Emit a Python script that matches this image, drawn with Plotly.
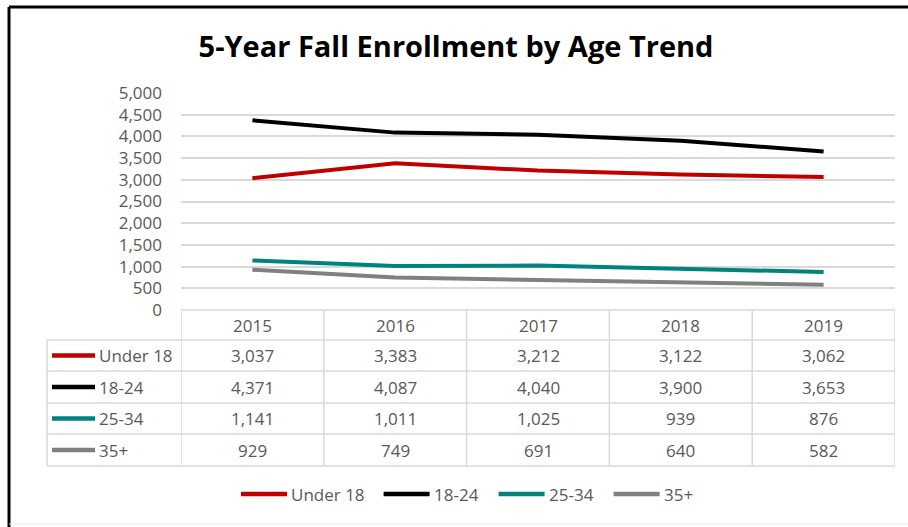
import plotly.graph_objects as go

years = ["2015", "2016", "2017", "2018", "2019"]
series_names = ["Under 18", "18-24", "25-34", "35+"]
under18 = [3037, 3383, 3212, 3122, 3062]
age18_24 = [4371, 4087, 4040, 3900, 3653]
age25_34 = [1141, 1011, 1025, 939, 876]
age35p = [929, 749, 691, 640, 582]
colors = ["#C00000", "#000000", "#00827F", "#808080"]
y_ticks = [0, 500, 1000, 1500, 2000, 2500, 3000, 3500, 4000, 4500, 5000]

W, H = 908, 527
def px(x):
    return x / W
def py(y):
    return 1 - y / H

values = [under18, age18_24, age25_34, age35p]
fig = go.Figure()
for name, vals, c in zip(series_names, values, colors):
    fig.add_trace(go.Scatter(x=list(range(len(years))), y=vals, name=name, mode="lines",
                             line=dict(color=c, width=4), showlegend=False))

FONT = "Open Sans"
TXT = "#595959"
GRID = "#D9D9D9"
FS = 17

shapes = []
ann = []
# table geometry (pixels)
t_top, rows = 310, [340, 371, 403, 434, 466]
lab_left = 47
for i in range(len(years) + 1):
    shapes.append(dict(type="line", xref="x", yref="paper", x0=i - 0.5, x1=i - 0.5,
                       y0=py(t_top), y1=py(rows[-1]), line=dict(color=GRID, width=1.5)))
shapes.append(dict(type="line", xref="x", yref="paper", x0=-0.5, x1=len(years) - 0.5,
                   y0=py(t_top), y1=py(t_top), line=dict(color=GRID, width=1.5)))
for r in rows:
    shapes.append(dict(type="line", xref="paper", yref="paper", x0=px(lab_left), x1=px(895),
                       y0=py(r), y1=py(r), line=dict(color=GRID, width=1.5)))
shapes.append(dict(type="line", xref="paper", yref="paper", x0=px(lab_left), x1=px(lab_left),
                   y0=py(rows[0]), y1=py(rows[-1]), line=dict(color=GRID, width=1.5)))
for i, yr in enumerate(years):
    ann.append(dict(x=i, y=py((t_top + rows[0]) / 2), xref="x", yref="paper", text=yr,
                    xanchor="center", yanchor="middle",
                    showarrow=False, font=dict(family=FONT, size=FS, color=TXT)))
for k, (name, vals, c) in enumerate(zip(series_names, values, colors)):
    yc = py((rows[k] + rows[k + 1]) / 2)
    shapes.append(dict(type="line", xref="paper", yref="paper", x0=px(52), x1=px(95),
                       y0=yc, y1=yc, line=dict(color=c, width=4.5)))
    ann.append(dict(x=px(97), y=yc, xref="paper", yref="paper", text=name, xanchor="left",
                    yanchor="middle", showarrow=False, font=dict(family=FONT, size=FS, color=TXT)))
    for i, v in enumerate(vals):
        ann.append(dict(x=i, y=yc, xref="x", yref="paper", text=f"{v:,}",
                        xanchor="center", yanchor="middle",
                        showarrow=False, font=dict(family=FONT, size=FS, color=TXT)))

# bottom legend (drawn manually)
lx, ly = 241, 494
for name, c in zip(series_names, colors):
    shapes.append(dict(type="line", xref="paper", yref="paper", x0=px(lx), x1=px(lx + 46),
                       y0=py(ly), y1=py(ly), line=dict(color=c, width=4.5)))
    ann.append(dict(x=px(lx + 48), y=py(ly), xref="paper", yref="paper", text=name,
                    xanchor="left", yanchor="middle", showarrow=False,
                    font=dict(family=FONT, size=FS, color=TXT)))
    lx += 46 + 3 + len(name) * 9.2 + 20

# outer frame
shapes.append(dict(type="line", xref="paper", yref="paper", x0=px(9), x1=1, y0=py(7), y1=py(7),
                   line=dict(color="black", width=3)))
shapes.append(dict(type="line", xref="paper", yref="paper", x0=px(9), x1=px(9), y0=py(7), y1=0,
                   line=dict(color="black", width=3)))
shapes.append(dict(type="line", xref="paper", yref="paper", x0=px(9), x1=1, y0=py(524), y1=py(524),
                   line=dict(color="#E5E5E5", width=1)))

fig.update_layout(
    width=W, height=H, margin=dict(l=0, r=0, t=0, b=0, autoexpand=False),
    paper_bgcolor="white", plot_bgcolor="white", showlegend=False,
    title=dict(text="<b>5-Year Fall Enrollment by Age Trend</b>", x=px(456), xanchor="center",
               y=py(47), yanchor="middle", font=dict(family=FONT, size=29, color="black")),
    xaxis=dict(domain=[px(181), px(895)], range=[-0.5, len(years) - 0.5], showticklabels=False,
               showgrid=False, zeroline=False, fixedrange=True, automargin=False),
    yaxis=dict(domain=[py(310), py(93)], range=[0, 5000], tickvals=y_ticks, automargin=False,
               tickformat=",", showgrid=True, gridcolor=GRID, gridwidth=1.5, zeroline=False,
               ticklabelstandoff=18, tickfont=dict(family=FONT, size=17, color=TXT)),
    shapes=shapes, annotations=ann,
)
fig.write_html("out.html")
